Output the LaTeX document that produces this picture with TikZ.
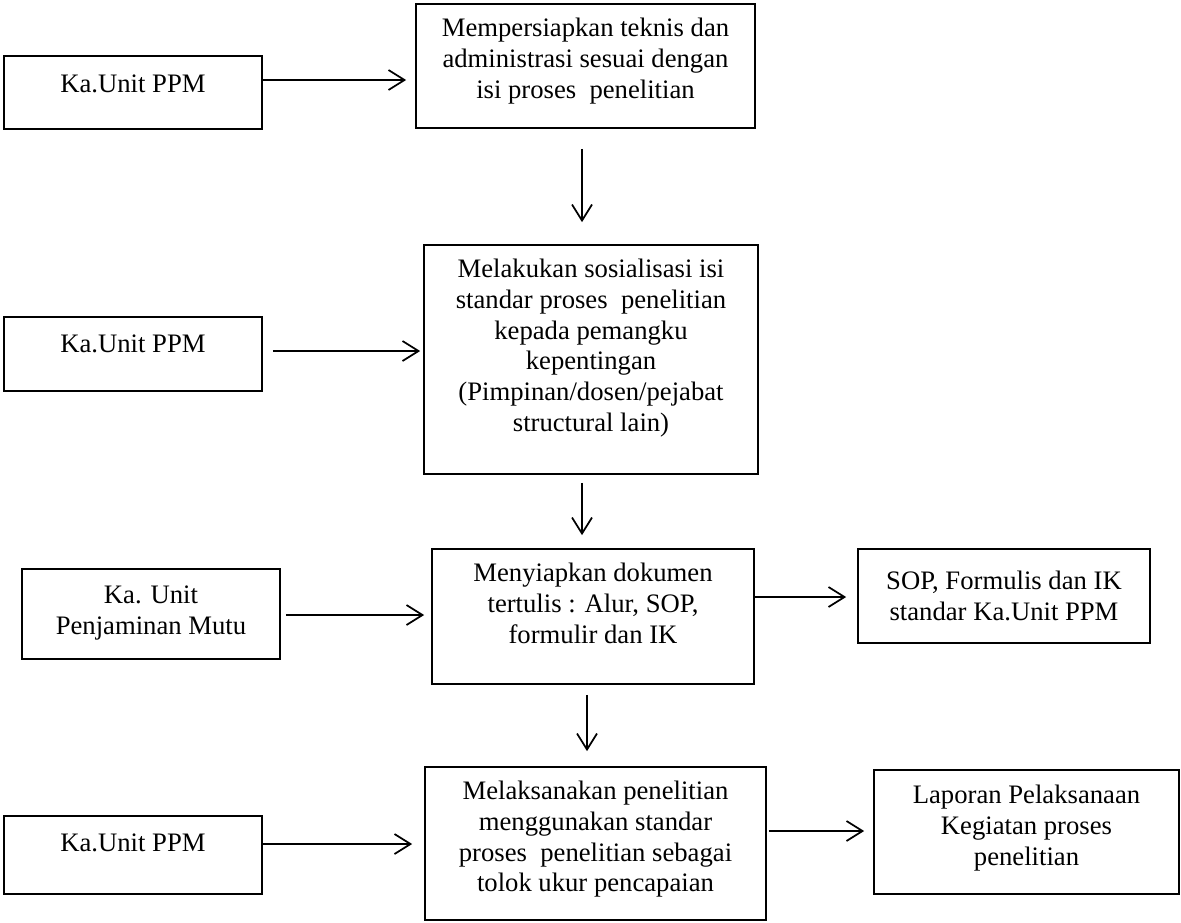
\documentclass[tikz,border=0pt]{standalone}
\usepackage{fontspec}
\setmainfont{Liberation Serif}
\usetikzlibrary{arrows.meta}
\tikzset{
  box/.style={draw, line width=1.3pt, inner sep=0pt},
  txt/.style={anchor=north, align=center, inner sep=0pt, font=\fontsize{20}{23}\selectfont},
  arr/.style={line width=1.3pt, -{Straight Barb[length=12pt,width=15pt]}}
}
\newcommand{\flowbox}[5]{\node[box, minimum width={(#4-#2)*0.75pt}, minimum height={(#5-#3)*0.75pt}] (#1) at ({(#2+#4)/2},{(#3+#5)/2}) {};}
\begin{document}
\begin{tikzpicture}[x=0.75pt,y=-0.75pt]
\useasboundingbox (0,0) rectangle (1181,922);
% boxes
\flowbox{a1}{4}{56}{262}{129}
\flowbox{b1}{416}{4}{755}{128}
\flowbox{b2}{424}{245}{758}{474}
\flowbox{a2}{4}{317}{262}{391}
\flowbox{b3}{432}{549}{754}{684}
\flowbox{a3}{22}{569}{280}{659}
\flowbox{c3}{858}{549}{1150}{643}
\flowbox{b4}{425}{767}{766}{920}
\flowbox{a4}{4}{816}{262}{894}
\flowbox{c4}{874}{770}{1179}{894}
% texts
\node[txt] (a1t) at (133,75) {Ka.Unit PPM};
\node[txt] (b1t) at (585.5,18) {Mempersiapkan teknis dan\\administrasi sesuai dengan\\isi proses \ penelitian};
\node[txt] (b2t) at (591,259) {Melakukan sosialisasi isi\\standar proses \ penelitian\\kepada pemangku\\kepentingan\\(Pimpinan/dosen/pejabat\\structural lain)};
\node[txt] (a2t) at (133,335) {Ka.Unit PPM};
\node[txt] (b3t) at (593,563) {Menyiapkan dokumen\\tertulis : Alur, SOP,\\formulir dan IK};
\node[txt] (a3t) at (151,586) {Ka. Unit\\Penjaminan Mutu};
\node[txt] (c3t) at (1004,571) {SOP, Formulis dan IK\\standar Ka.Unit PPM};
\node[txt] (b4t) at (595.5,781) {Melaksanakan penelitian\\menggunakan standar\\proses \ penelitian sebagai\\tolok ukur pencapaian};
\node[txt] (a4t) at (133,834) {Ka.Unit PPM};
\node[txt] (c4t) at (1026.5,785) {Laporan Pelaksanaan\\Kegiatan proses\\penelitian};
% connectors
\draw[arr, shorten >=6.75pt] (a1.east |- 0,80) -- (b1.west |- 0,80);
\draw[arr, shorten <=15pt, shorten >=16.5pt] (582,0 |- b1.south) -- (582,0 |- b2.north);
\draw[arr, shorten <=7.5pt, shorten >=2.25pt] (a2.east |- 0,351) -- (b2.west |- 0,351);
\draw[arr, shorten <=6pt, shorten >=9.75pt] (582,0 |- b2.south) -- (582,0 |- b3.north);
\draw[arr, shorten <=3.75pt, shorten >=5.25pt] (a3.east |- 0,615) -- (b3.west |- 0,615);
\draw[arr, shorten >=8.25pt] (b3.east |- 0,597) -- (c3.west |- 0,597);
\draw[arr, shorten <=7.5pt, shorten >=11.25pt] (587,0 |- b3.south) -- (587,0 |- b4.north);
\draw[arr, shorten >=9pt] (a4.east |- 0,844) -- (b4.west |- 0,844);
\draw[arr, shorten <=1.5pt, shorten >=6.75pt] (b4.east |- 0,831) -- (c4.west |- 0,831);
\end{tikzpicture}
\end{document}
